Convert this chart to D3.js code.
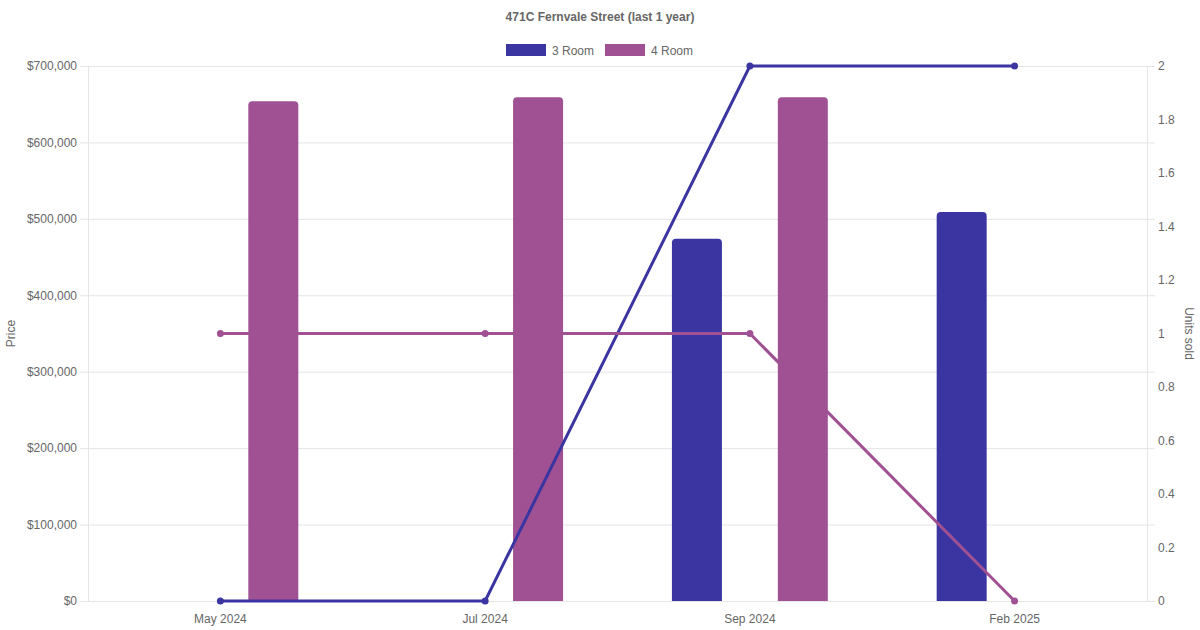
<!DOCTYPE html>
<html>
<head>
<meta charset="utf-8">
<script src="https://cdn.jsdelivr.net/npm/d3@7"></script>
<style>
  body { margin: 0; background: #fff; }
  text { font-family: "Liberation Sans", Arial, sans-serif; fill: #666; }
</style>
</head>
<body>
<script>
const W = 1200, H = 630;

// data
const months = ["May 2024", "Jul 2024", "Sep 2024", "Feb 2025"];
const price3 = [null, null, 474000, 509000];
const price4 = [654000, 659000, 659000, null];
const units3 = [0, 0, 2, 2];
const units4 = [1, 1, 1, 0];
const priceTicks = [0, 100000, 200000, 300000, 400000, 500000, 600000, 700000];
const unitTicks = [0, 0.2, 0.4, 0.6, 0.8, 1, 1.2, 1.4, 1.6, 1.8, 2];

const c3 = "#3a35a1", c4 = "#a05193";
const m = {top: 66, right: 53, bottom: 29, left: 88};

const svg = d3.select("body").append("svg")
  .attr("width", W).attr("height", H);

const x = d3.scaleBand().domain(months).range([m.left, W - m.right]);
const yL = d3.scaleLinear().domain([0, 700000]).range([H - m.bottom, m.top]);
const yR = d3.scaleLinear().domain([0, 2]).range([H - m.bottom, m.top]);
const cx = d => x(d) + x.bandwidth() / 2;

// grid lines
svg.append("g").selectAll("line").data(priceTicks).join("line")
  .attr("x1", m.left - 8).attr("x2", W - m.right + 8)
  .attr("y1", d => yL(d) + 0.5).attr("y2", d => yL(d) + 0.5)
  .attr("stroke", "#e5e5e5");
svg.append("line").attr("x1", m.left + 0.5).attr("x2", m.left + 0.5)
  .attr("y1", m.top).attr("y2", H - m.bottom).attr("stroke", "#e5e5e5");
svg.append("line").attr("x1", W - m.right + 0.5).attr("x2", W - m.right + 0.5)
  .attr("y1", m.top).attr("y2", H - m.bottom).attr("stroke", "#e5e5e5");

// left axis
const fmt = d3.format(",");
const axL = d3.axisLeft(yL).tickValues(priceTicks).tickSize(0).tickPadding(11)
  .tickFormat(d => "$" + fmt(d));
svg.append("g").attr("transform", `translate(${m.left},0)`).call(axL)
  .call(g => g.select(".domain").remove())
  .selectAll("text").style("font-size", "12px").attr("fill", "#666");

// right axis
const axR = d3.axisRight(yR).tickValues(unitTicks).tickSize(0).tickPadding(11)
  .tickFormat(d => d3.format("~g")(d));
svg.append("g").attr("transform", `translate(${W - m.right},0)`).call(axR)
  .call(g => g.select(".domain").remove())
  .selectAll("text").style("font-size", "12px").attr("fill", "#666");

// bottom axis
const axB = d3.axisBottom(x).tickSize(0).tickPadding(13);
svg.append("g").attr("transform", `translate(0,${H - m.bottom})`).call(axB)
  .call(g => g.select(".domain").remove())
  .selectAll("text").style("font-size", "12px").attr("fill", "#666");

// axis titles
svg.append("text").attr("transform", `translate(15,${(m.top + H - m.bottom) / 2}) rotate(-90)`)
  .attr("text-anchor", "middle").style("font-size", "12px").text("Price");
svg.append("text").attr("transform", `translate(1185,${(m.top + H - m.bottom) / 2}) rotate(90)`)
  .attr("text-anchor", "middle").style("font-size", "12px").text("Units sold");

// bars
const slot = x.bandwidth() * 0.8 / 2;
const bw = 50;
function barPath(x0, y0, w, h, r) {
  r = Math.min(r, h);
  return `M${x0},${y0 + h} V${y0 + r} Q${x0},${y0} ${x0 + r},${y0} H${x0 + w - r} Q${x0 + w},${y0} ${x0 + w},${y0 + r} V${y0 + h} Z`;
}
[[price3, c3, -1], [price4, c4, 1]].forEach(([vals, col, side]) => {
  svg.append("g").selectAll("path")
    .data(months.map((mm, i) => ({m: mm, v: vals[i]})).filter(d => d.v != null))
    .join("path")
    .attr("d", d => {
      const xc = cx(d.m) + side * slot / 2;
      return barPath(xc - bw / 2, yL(d.v), bw, yL(0) - yL(d.v), 4);
    })
    .attr("fill", col);
});

// lines
[[units3, c3], [units4, c4]].forEach(([vals, col]) => {
  const pts = months.map((mm, i) => [cx(mm), yR(vals[i])]);
  svg.append("path").attr("d", d3.line()(pts))
    .attr("fill", "none").attr("stroke", col).attr("stroke-width", 3);
  svg.append("g").selectAll("circle").data(pts).join("circle")
    .attr("cx", d => d[0]).attr("cy", d => d[1]).attr("r", 3.5).attr("fill", col);
});

// title
svg.append("text").attr("x", W / 2).attr("y", 21).attr("text-anchor", "middle")
  .style("font-size", "12px").style("font-weight", "bold").text("471C Fernvale Street (last 1 year)");

// legend
const leg = [["3 Room", c3, 506], ["4 Room", c4, 605]];
leg.forEach(([t, col, lx]) => {
  svg.append("rect").attr("x", lx).attr("y", 44).attr("width", 40).attr("height", 12).attr("fill", col);
  svg.append("text").attr("x", lx + 46).attr("y", 54.5).style("font-size", "12px").text(t);
});
</script>
</body>
</html>
